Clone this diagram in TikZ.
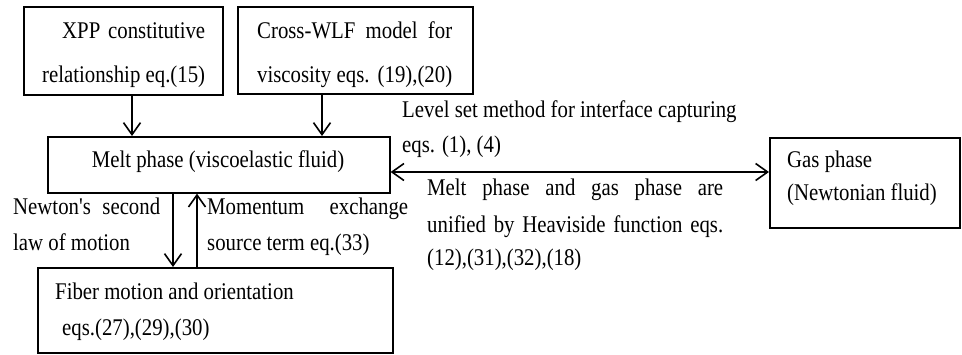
\documentclass[tikz,border=0pt]{standalone}
\usepackage{fontspec}
\setmainfont{Liberation Serif}
\usetikzlibrary{arrows.meta}
\newcommand\vst[1]{\scalebox{1}[1.15]{#1}}
\begin{document}
\begin{tikzpicture}[x=1pt,y=-1pt,
  box/.style={draw,line width=1.6pt,inner sep=0pt,anchor=north west},
  txt/.style={inner sep=0pt,anchor=mid west,font=\fontsize{20.8}{36}\selectfont},
  arr/.style={line width=1.6pt,-{Straight Barb[length=12pt,width=17pt,line width=1.6pt]}},
  darr/.style={line width=1.6pt,{Straight Barb[length=12pt,width=17pt,line width=1.6pt]}-{Straight Barb[length=12pt,width=17pt,line width=1.6pt]}},
]
\useasboundingbox (0,0) rectangle (962,354);
% boxes
\node[box,minimum width=199pt,minimum height=88pt] (xpp) at (23,6) {};
\node[box,minimum width=235pt,minimum height=87pt] (wlf) at (237,6) {};
\node[box,minimum width=342pt,minimum height=56pt] (melt) at (47,136) {};
\node[box,minimum width=190pt,minimum height=90pt] (gas) at (769,137) {};
\node[box,minimum width=355pt,minimum height=85pt] (fiber) at (37,267) {};
% box texts
\node[txt] (t1) at (62,36) {\vst{\makebox[143pt][s]{XPP constitutive}}};
\node[txt] (t2) at (42,80) {\vst{relationship eq.(15)}};
\node[txt] (t3) at (257,36) {\vst{\makebox[195pt][s]{Cross-WLF model for}}};
\node[txt] (t4) at (257,80) {\vst{\makebox[195pt][s]{viscosity eqs. (19),(20)}}};
\node[txt,anchor=mid] (t5) at (218,165) {\vst{Melt phase (viscoelastic fluid)}};
\node[txt] (t6) at (787,165) {\vst{Gas phase}};
\node[txt] (t7) at (787,198) {\vst{(Newtonian fluid)}};
\node[txt] (t8) at (55,297) {\vst{Fiber motion and orientation}};
\node[txt] (t9) at (62,333) {\vst{eqs.(27),(29),(30)}};
% labels
\node[txt] (l1) at (402,115) {\vst{Level set method for interface capturing}};
\node[txt] (l2) at (402,150) {\vst{eqs. (1), (4)}};
\node[txt] (l3) at (427,193) {\vst{\makebox[296pt][s]{Melt phase and gas phase are}}};
\node[txt] (l4) at (427,230) {\vst{\makebox[296pt][s]{unified by Heaviside function eqs.}}};
\node[txt] (l5) at (427,263) {\vst{(12),(31),(32),(18)}};
\node[txt] (l6) at (13,212) {\vst{\makebox[147pt][s]{Newton\textquotesingle s second}}};
\node[txt] (l7) at (13,248) {\vst{law of motion}};
\node[txt] (l8) at (207,212) {\vst{\makebox[201pt][s]{Momentum exchange}}};
\node[txt] (l9) at (207,248) {\vst{source term eq.(33)}};
% connectors
\coordinate (cx1) at (132,0);
\coordinate (cx2) at (322,0);
\coordinate (cx3) at (173,0);
\coordinate (cx4) at (197,0);
\coordinate (hy) at (0,172);
\draw[arr] (xpp.south -| cx1) -- (melt.north -| cx1);
\draw[arr] (wlf.south -| cx2) -- (melt.north -| cx2);
\draw[arr] (melt.south -| cx3) -- (fiber.north -| cx3);
\draw[arr] (fiber.north -| cx4) -- (melt.south -| cx4);
\draw[darr] (melt.east |- hy) -- (gas.west |- hy);
\end{tikzpicture}
\end{document}
